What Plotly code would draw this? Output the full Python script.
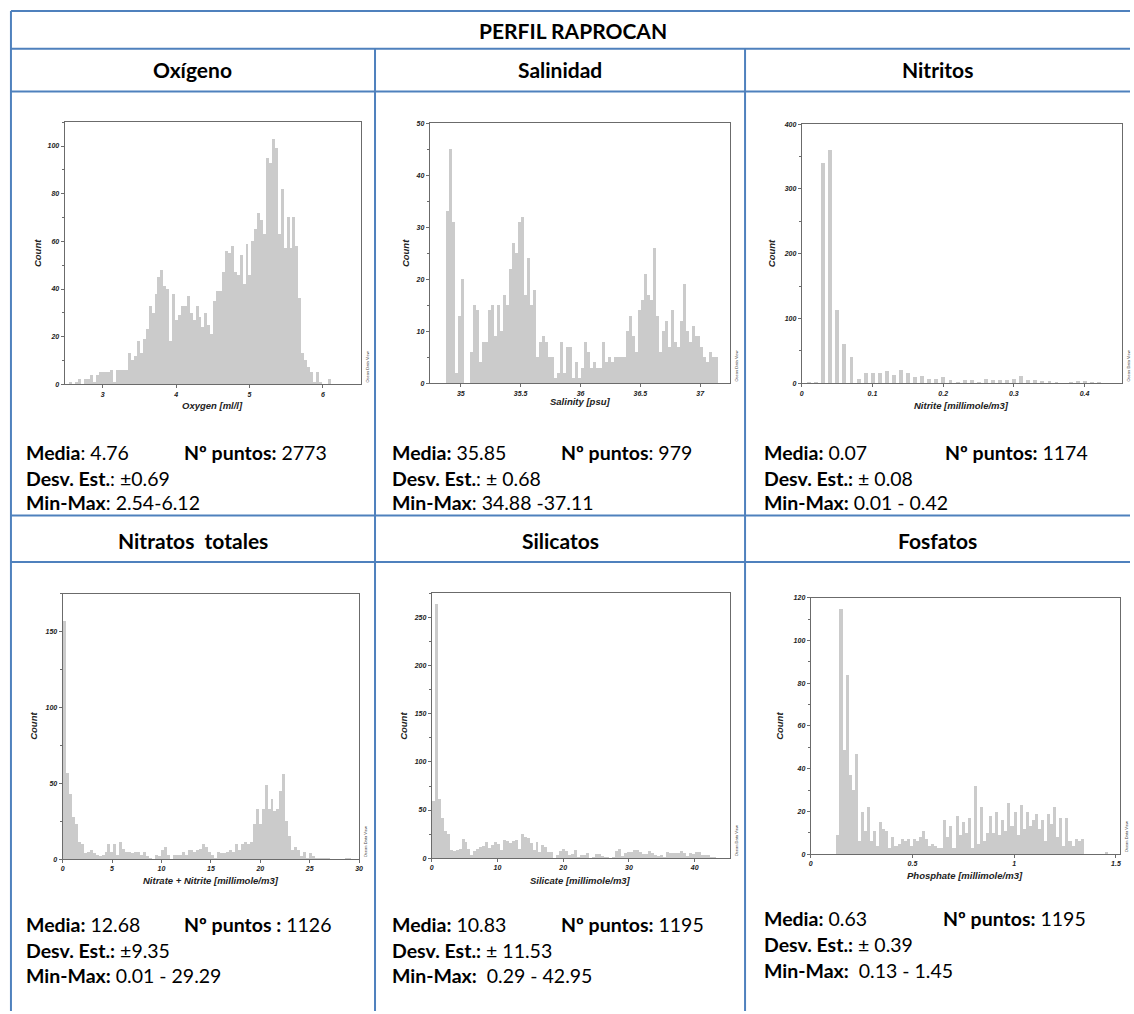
import plotly.graph_objects as go

W, H = 1134, 1014

# ---------------- data ----------------
oxygen_start, oxygen_width = 2.54, 0.04
oxygen_counts = [1, 0, 1, 2, 0, 2, 2, 4, 1, 4,
                 5, 5, 5, 5, 6, 1, 6, 6, 6, 6,
                 13, 10, 12, 18, 13, 19, 23, 33, 30, 38,
                 45, 48, 41, 40, 18, 38, 27, 29, 33, 33,
                 37, 30, 27, 33, 28, 24, 30, 25, 21, 35,
                 39, 39, 47, 56, 55, 58, 47, 46, 54, 42,
                 59, 46, 60, 65, 72, 69, 63, 95, 93, 103,
                 99, 63, 82, 57, 70, 57, 70, 58, 36, 13,
                 10, 7, 5, 1, 5, 1, 0, 0, 2]

salinity_start, salinity_width = 34.875, 0.025
salinity_counts = [33, 45, 31, 2, 13, 20, 0, 0, 6, 15,
                   14, 4, 8, 8, 14, 15, 9, 15, 10, 17,
                   15, 22, 27, 25, 31, 32, 17, 24, 15, 18,
                   5, 8, 9, 8, 5, 5, 1, 2, 8, 2,
                   7, 7, 1, 4, 1, 3, 8, 6, 3, 4,
                   3, 3, 8, 4, 5, 4, 5, 5, 5, 5,
                   10, 13, 9, 6, 14, 16, 21, 17, 16, 26,
                   13, 6, 10, 12, 7, 14, 8, 7, 12, 19,
                   10, 8, 11, 9, 9, 7, 5, 4, 6, 5,
                   5]

nitrite_values = [round(0.01 * (i + 1), 2) for i in range(42)]
nitrite_counts = [1, 1, 340, 360, 113, 60, 40, 7, 15, 15,
                  15, 19, 13, 21, 15, 10, 11, 6, 7, 9,
                  5, 2, 5, 5, 2, 7, 5, 5, 5, 6,
                  11, 5, 5, 4, 3, 2, 0, 2, 4, 3,
                  1, 1]

nitrate_start, nitrate_width = 0.0, 0.3
nitrate_counts = [157, 57, 43, 28, 23, 11, 10, 4, 5, 6,
                  4, 3, 2, 3, 5, 10, 5, 10, 3, 11,
                  7, 5, 5, 4, 5, 5, 3, 5, 2, 1,
                  0, 3, 2, 6, 8, 3, 0, 3, 3, 3,
                  5, 3, 6, 6, 5, 6, 7, 10, 8, 5,
                  3, 1, 5, 4, 4, 5, 6, 5, 10, 6,
                  10, 11, 10, 11, 23, 33, 23, 33, 49, 33,
                  40, 32, 33, 45, 56, 25, 15, 6, 8, 6,
                  2, 5, 1, 4, 2, 1, 1, 1, 1, 1,
                  0, 0, 0, 0, 0, 1, 1, 0]

silicate_start, silicate_width = 0.0, 0.45
silicate_counts = [60, 265, 62, 42, 28, 25, 8, 7, 8, 10,
                   20, 17, 10, 3, 7, 10, 12, 13, 17, 11,
                   14, 17, 15, 9, 19, 18, 16, 18, 19, 10,
                   25, 22, 21, 16, 9, 17, 6, 14, 12, 6,
                   6, 0, 3, 7, 10, 7, 3, 4, 9, 1,
                   3, 3, 5, 0, 1, 4, 4, 2, 1, 1,
                   0, 1, 7, 10, 2, 5, 6, 6, 8, 9,
                   6, 4, 4, 7, 5, 3, 2, 3, 1, 6,
                   5, 5, 5, 5, 7, 5, 2, 5, 4, 6,
                   6, 3, 3, 3, 1, 1]

phosphate_start, phosphate_width = 0.125, 0.015
phosphate_counts = [9, 115, 49, 84, 37, 30, 47, 6, 20, 11,
                    22, 6, 11, 4, 15, 12, 11, 3, 8, 4,
                    5, 7, 6, 7, 4, 7, 6, 8, 11, 7,
                    4, 5, 4, 3, 3, 16, 8, 13, 3, 18,
                    9, 15, 10, 17, 3, 32, 5, 22, 6, 10,
                    18, 10, 20, 9, 16, 11, 24, 13, 20, 9,
                    23, 12, 20, 13, 16, 19, 12, 16, 6, 19,
                    14, 22, 8, 17, 4, 17, 6, 4, 7, 6,
                    7, 0, 0, 0, 0, 0, 0, 0, 1]

table_title = "PERFIL RAPROCAN"
col_titles_row1 = ["Oxígeno", "Salinidad", "Nitritos"]
col_titles_row2 = ["Nitratos\u00a0 totales", "Silicatos", "Fosfatos"]
x_titles = ["Oxygen [ml/l]", "Salinity [psu]", "Nitrite [millimole/m3]",
            "Nitrate + Nitrite [millimole/m3]", "Silicate [millimole/m3]",
            "Phosphate [millimole/m3]"]

stats_media = ["<b>Media</b>: 4.76", "<b>Media:</b> 35.85", "<b>Media:</b> 0.07",
               "<b>Media:</b> 12.68", "<b>Media:</b> 10.83", "<b>Media:</b> 0.63"]
stats_npuntos = ["<b>Nº puntos:</b> 2773", "<b>Nº puntos</b>: 979", "<b>Nº puntos:</b> 1174",
                 "<b>Nº puntos :</b> 1126", "<b>Nº puntos:</b> 1195", "<b>Nº puntos:</b> 1195"]
stats_desv = ["<b>Desv. Est.</b>: ±0.69", "<b>Desv. Est.</b>: ± 0.68", "<b>Desv. Est.:</b> ± 0.08",
              "<b>Desv. Est.:</b> ±9.35", "<b>Desv. Est.:</b> ± 11.53", "<b>Desv. Est.:</b> ± 0.39"]
stats_minmax = ["<b>Min-Max</b>: 2.54-6.12", "<b>Min-Max</b>: 34.88 -37.11", "<b>Min-Max:</b> 0.01 - 0.42",
                "<b>Min-Max:</b> 0.01 - 29.29", "<b>Min-Max:</b>  0.29 - 42.95", "<b>Min-Max:</b>  0.13 - 1.45"]

# ---------------- styling / layout ----------------
BLUE = "#4f81bd"
BAR = "#cbcbcb"
FRAME = "#6b6b6b"
TXT = "#222222"
TICKFONT = dict(family="Liberation Sans", size=7, color=TXT, weight="bold", style="italic")
LABFONT = dict(family="Liberation Sans", size=9.5, color=TXT, weight="bold", style="italic")
CELLFONT = "Lato"
TITLE_SIZE = 21
STAT_SIZE = 19.5


def fx(px):
    return px / W


def fy(py):
    return 1 - py / H


def centers(start, width, n):
    return [start + width * (i + 0.5) for i in range(n)]


# frames in pixels: left, top, right, bottom
panels = [
    dict(frame=(63, 119, 361, 383), xr=[2.48, 6.52], xd=1, yr=[0, 110], yd=20, ym=10,
         xt=(212, 404), ct=(35, 251)),
    dict(frame=(430, 120, 732, 382), xr=[34.74, 37.25], xd=0.5, yr=[0, 50], yd=10, ym=5,
         xt=(581, 400), ct=(405, 251)),
    dict(frame=(804, 121, 1126, 382), xr=[0, 0.453], xd=0.1, yr=[0, 400], yd=100, ym=50,
         xt=(965, 404), ct=(773, 251)),
    dict(frame=(61, 594, 359, 861), xr=[0, 30], xd=5, yr=[0, 175], yd=50, ym=25,
         xt=(210, 883), ct=(32, 727)),
    dict(frame=(432, 593, 732, 860), xr=[0, 45.4], xd=10, yr=[0, 276], yd=50, ym=25,
         xt=(582, 883), ct=(404, 727)),
    dict(frame=(813, 598, 1124, 856), xr=[0, 1.52], xd=0.5, yr=[0, 120], yd=20, ym=10,
         xt=(968, 878), ct=(782, 727)),
]

series = [
    (centers(oxygen_start, oxygen_width, len(oxygen_counts)), oxygen_counts, oxygen_width),
    (centers(salinity_start, salinity_width, len(salinity_counts)), salinity_counts, salinity_width),
    (nitrite_values, nitrite_counts, 0.0055),
    (centers(nitrate_start, nitrate_width, len(nitrate_counts)), nitrate_counts, nitrate_width),
    (centers(silicate_start, silicate_width, len(silicate_counts)), silicate_counts, silicate_width),
    (centers(phosphate_start, phosphate_width, len(phosphate_counts)), phosphate_counts, phosphate_width),
]

fig = go.Figure()
layout_axes = {}
annotations = []

for i, (p, (xs, ys, wd)) in enumerate(zip(panels, series)):
    n = i + 1
    xa = "x" if n == 1 else f"x{n}"
    ya = "y" if n == 1 else f"y{n}"
    fig.add_trace(go.Bar(x=xs, y=ys, width=wd, xaxis=xa, yaxis=ya,
                         marker=dict(color=BAR, line=dict(width=0)),
                         hoverinfo="skip", showlegend=False))
    l, t, r, b = p["frame"]
    layout_axes["xaxis" if n == 1 else f"xaxis{n}"] = dict(
        domain=[fx(l), fx(r)], range=p["xr"], dtick=p["xd"], tick0=0, anchor=ya,
        showline=True, mirror=True, linecolor=FRAME, linewidth=1,
        ticks="outside", ticklen=3, tickcolor=FRAME, tickwidth=1, tickfont=TICKFONT,
        showgrid=False, zeroline=False, fixedrange=True)
    layout_axes["yaxis" if n == 1 else f"yaxis{n}"] = dict(
        domain=[fy(b), fy(t)], range=p["yr"], dtick=p["yd"], tick0=0, anchor=xa,
        showline=True, mirror=True, linecolor=FRAME, linewidth=1,
        ticks="outside", ticklen=3, tickcolor=FRAME, tickwidth=1, tickfont=TICKFONT,
        minor=dict(ticks="outside", ticklen=2, tickcolor=FRAME, dtick=p["ym"]),
        showgrid=False, zeroline=False, fixedrange=True)
    annotations.append(dict(text=x_titles[i], x=fx(p["xt"][0]), y=fy(p["xt"][1]),
                            xref="paper", yref="paper", showarrow=False, font=LABFONT,
                            xanchor="center", yanchor="middle"))
    annotations.append(dict(text="Count", x=fx(p["ct"][0]), y=fy(p["ct"][1]), textangle=-90,
                            xref="paper", yref="paper", showarrow=False, font=LABFONT,
                            xanchor="center", yanchor="middle"))
    annotations.append(dict(text="Ocean Data View", x=fx(r + 6), y=fy(b - 17), textangle=-90,
                            xref="paper", yref="paper", showarrow=False,
                            font=dict(family="Liberation Sans", size=4, color="#444"),
                            xanchor="center", yanchor="middle"))

# ---------------- table ----------------
shapes = []


def hline(py, x0=9, x1=W):
    shapes.append(dict(type="line", xref="paper", yref="paper", x0=fx(x0), x1=fx(x1),
                       y0=fy(py), y1=fy(py), line=dict(color=BLUE, width=2)))


def vline(px, y0, y1):
    shapes.append(dict(type="line", xref="paper", yref="paper", x0=fx(px), x1=fx(px),
                       y0=fy(y0), y1=fy(y1), line=dict(color=BLUE, width=2)))


for py in (7, 45, 88, 515, 562):
    hline(py)
vline(9, 7, H)
vline(375, 45, H)
vline(747, 45, H)

annotations.append(dict(text=f"<b>{table_title}</b>", x=fx(574), y=fy(27), xref="paper", yref="paper",
                        showarrow=False, font=dict(family=CELLFONT, size=TITLE_SIZE, color="black"),
                        xanchor="center", yanchor="middle"))
col_centers = [192, 561, 940]
for c, t1, t2 in zip(col_centers, col_titles_row1, col_titles_row2):
    annotations.append(dict(text=f"<b>{t1}</b>", x=fx(c), y=fy(66), xref="paper", yref="paper",
                            showarrow=False, font=dict(family=CELLFONT, size=TITLE_SIZE, color="black"),
                            xanchor="center", yanchor="middle"))
    annotations.append(dict(text=f"<b>{t2}</b>", x=fx(c), y=fy(540), xref="paper", yref="paper",
                            showarrow=False, font=dict(family=CELLFONT, size=TITLE_SIZE, color="black"),
                            xanchor="center", yanchor="middle"))

left_x = [22, 390, 764, 22, 390, 764]
right_x = [181, 560, 946, 181, 560, 944]
rows_y = [(452, 478, 502), (452, 478, 502), (452, 478, 502),
          (927, 953, 978), (927, 953, 978), (921, 947, 973)]
for i in range(6):
    y1, y2, y3 = rows_y[i]
    for txt, xx, yy in ((stats_media[i], left_x[i], y1), (stats_npuntos[i], right_x[i], y1),
                        (stats_desv[i], left_x[i], y2), (stats_minmax[i], left_x[i], y3)):
        annotations.append(dict(text=txt, x=fx(xx), y=fy(yy), xref="paper", yref="paper",
                                showarrow=False, font=dict(family=CELLFONT, size=STAT_SIZE, color="black"),
                                xanchor="left", yanchor="middle"))

fig.update_layout(width=W, height=H, margin=dict(l=0, r=0, t=0, b=0),
                  paper_bgcolor="white", plot_bgcolor="white", showlegend=False,
                  bargap=0, shapes=shapes, annotations=annotations, **layout_axes)

fig.write_html("out.html")
